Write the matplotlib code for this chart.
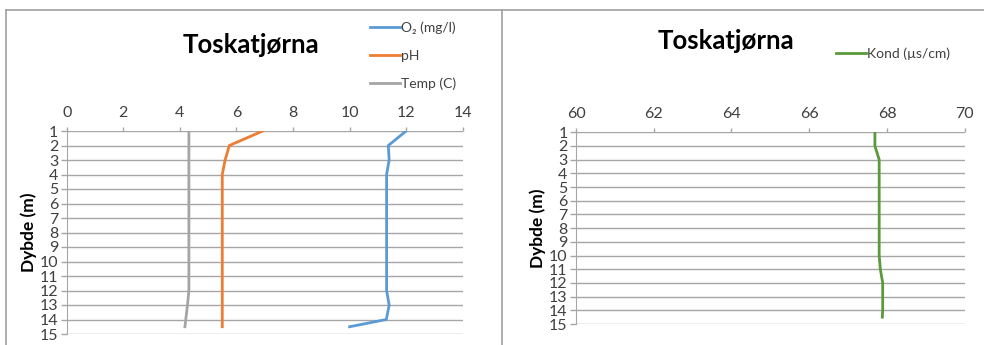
import matplotlib
matplotlib.use("Agg")
import matplotlib.pyplot as plt
from matplotlib.lines import Line2D

plt.rcParams['font.family'] = ['Lato', 'DejaVu Sans']

# data
depth = [1, 2, 3, 4, 5, 6, 7, 8, 9, 10, 11, 12, 13, 14, 14.5]
o2 = [12.0, 11.37, 11.4, 11.31, 11.31, 11.31, 11.31, 11.31, 11.31, 11.31, 11.31, 11.31, 11.4, 11.3, 10.0]
ph = [6.93, 5.75, 5.6, 5.5, 5.5, 5.5, 5.5, 5.5, 5.5, 5.5, 5.5, 5.5, 5.5, 5.5, 5.5]
temp = [4.32, 4.32, 4.32, 4.32, 4.32, 4.32, 4.32, 4.32, 4.32, 4.32, 4.32, 4.32, 4.27, 4.21, 4.18]
kond = [67.69, 67.69, 67.8, 67.8, 67.8, 67.8, 67.8, 67.8, 67.8, 67.8, 67.83, 67.89, 67.89, 67.89, 67.88]
depth_ticks = list(range(1, 16))

W, H = 984, 345
fig = plt.figure(figsize=(W / 100, H / 100), dpi=100)

grid_col = '#a6a6a6'
text_col = '#404040'


def box(x0, y0, x1, y1):
    return [x0 / W, 1 - y1 / H, (x1 - x0) / W, (y1 - y0) / H]


def style_axis(ax, xmin, xmax, xstep):
    ax.set_xlim(xmin, xmax)
    ax.set_ylim(15, 1)
    ax.set_xticks(range(xmin, xmax + 1, xstep))
    ax.set_yticks(depth_ticks)
    ax.xaxis.tick_top()
    ax.tick_params(axis='x', direction='out', length=3, width=1, color=grid_col,
                   pad=5, labelsize=11.5, labelcolor=text_col)
    ax.tick_params(axis='y', direction='out', length=4, width=1, color=grid_col,
                   pad=2, labelsize=11.5, labelcolor=text_col)
    for s in ['top', 'right', 'bottom']:
        ax.spines[s].set_visible(False)
    ax.spines['left'].set_color(grid_col)
    ax.grid(axis='y', color=grid_col, linewidth=1)
    ax.set_axisbelow(True)
    ax.set_ylabel('Dybde (m)', fontsize=12.5, fontweight='bold', labelpad=2)
    ax.patch.set_alpha(0)


# left chart
ax1 = fig.add_axes(box(66.7, 131, 462.7, 334))
style_axis(ax1, 0, 14, 2)
l1, = ax1.plot(o2, depth, color='#5b9bd5', lw=2, label='O₂ (mg/l)')
l2, = ax1.plot(ph, depth, color='#ed7d31', lw=2, label='pH')
l3, = ax1.plot(temp, depth, color='#a5a5a5', lw=2, label='Temp (C)')
fig.text(251 / W, 1 - 45 / H, 'Toskatjørna', ha='center', va='center',
         fontsize=18.5, fontweight='bold')
fig.legend(handles=[l1, l2, l3], loc='upper left', bbox_to_anchor=(357 / W, 1 - 9 / H),
           frameon=False, fontsize=10, handlelength=2.2, handletextpad=0.1,
           labelspacing=1.12, labelcolor=text_col)

# right chart
ax2 = fig.add_axes(box(576, 132.3, 964.7, 324))
style_axis(ax2, 60, 70, 2)
l4, = ax2.plot(kond, depth, color='#5a9a3a', lw=2, label='Kond (µs/cm)')
fig.text(726 / W, 1 - 41 / H, 'Toskatjørna', ha='center', va='center',
         fontsize=18.5, fontweight='bold')
fig.legend(handles=[l4], loc='upper left', bbox_to_anchor=(823 / W, 1 - 35 / H),
           frameon=False, fontsize=10, handlelength=2.2, handletextpad=0.1,
           labelcolor=text_col)

# chart panel borders
for xs, ys in [([6, W], [9.5, 9.5]), ([6, 6], [9.5, H]), ([502, 502], [9.5, H])]:
    fig.add_artist(Line2D([x / W for x in xs], [1 - y / H for y in ys],
                          color='#a0a0a0', lw=1.2))

fig.savefig('out.png', dpi=100)
